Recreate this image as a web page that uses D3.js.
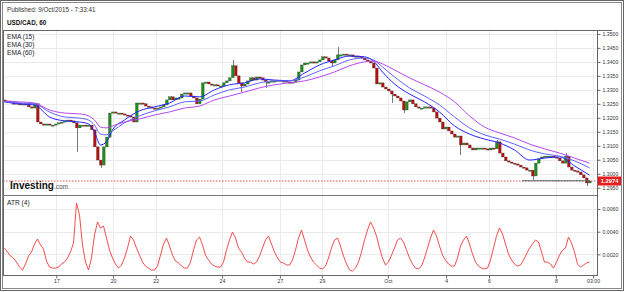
<!DOCTYPE html>
<html>
<head>
<meta charset="utf-8">
<script src="https://cdn.jsdelivr.net/npm/d3@7"></script>
<style>
body{margin:0;background:#fff}
svg{display:block;font-family:Arial,"Liberation Sans",sans-serif}
</style>
</head>
<body>
<svg id="chart" width="625" height="292"></svg>
<script>
// hourly closes, USD/CAD
var closes = [
 1.3260,1.3260,1.3253,1.3250,1.3253,1.3246,1.3250,1.3246,1.3239,1.3235,
 1.3250,1.3185,1.3178,1.3174,1.3178,1.3174,1.3174,1.3178,1.3182,1.3185,
 1.3189,1.3192,1.3189,1.3182,1.3164,1.3174,1.3174,1.3171,1.3174,1.3157,
 1.3096,1.3049,1.3031,1.3096,1.3131,1.3217,1.3221,1.3217,1.3217,1.3214,
 1.3210,1.3207,1.3203,1.3185,1.3253,1.3253,1.3250,1.3242,1.3239,1.3235,
 1.3232,1.3235,1.3239,1.3246,1.3264,1.3275,1.3264,1.3271,1.3271,1.3285,
 1.3289,1.3289,1.3278,1.3271,1.3250,1.3267,1.3325,1.3328,1.3321,1.3318,
 1.3318,1.3314,1.3314,1.3325,1.3332,1.3343,1.3386,1.3350,1.3325,1.3314,
 1.3321,1.3332,1.3343,1.3335,1.3346,1.3343,1.3335,1.3328,1.3328,1.3332,
 1.3332,1.3335,1.3332,1.3332,1.3328,1.3325,1.3328,1.3335,1.3364,1.3389,
 1.3396,1.3396,1.3400,1.3396,1.3400,1.3407,1.3418,1.3414,1.3403,1.3396,
 1.3407,1.3425,1.3425,1.3428,1.3425,1.3425,1.3418,1.3421,1.3418,1.3414,
 1.3407,1.3403,1.3396,1.3378,1.3321,1.3325,1.3310,1.3303,1.3296,1.3285,
 1.3278,1.3271,1.3260,1.3228,1.3257,1.3264,1.3250,1.3239,1.3235,1.3235,
 1.3239,1.3239,1.3235,1.3221,1.3199,1.3185,1.3160,1.3167,1.3153,1.3142,
 1.3131,1.3135,1.3103,1.3110,1.3103,1.3092,1.3085,1.3092,1.3092,1.3092,
 1.3089,1.3085,1.3092,1.3089,1.3114,1.3074,1.3060,1.3046,1.3042,1.3038,
 1.3035,1.3031,1.3024,1.3021,1.3013,1.3013,1.2992,1.3038,1.3053,1.3060,
 1.3063,1.3063,1.3063,1.3060,1.3056,1.3046,1.3038,1.3063,1.3024,1.3013,
 1.3010,1.3006,1.2996,1.2985,1.2967,1.2974]
var firstOpen = 1.3264

// long wicks
var spikeAt = [24,32,76,79,87,109,111,129,133,152,164,176,187,194]
var spikeTo = [1.3078,1.3021,1.3407,1.3292,1.3307,1.3382,1.3453,1.3253,1.3217,1.3067,1.3121,1.2978,1.3074,1.2956]

// moving averages, read every few candles
var emaAt = [0,5,10,15,20,25,28,30,32,34,36,40,45,50,55,60,65,70,75,80,85,90,95,100,105,110,115,120,123,126,130,135,140,145,150,155,160,165,170,175,180,185,190,195]
var ema15 = [1.3257,1.3250,1.3246,1.3203,1.3189,1.3185,1.3178,1.3149,1.3103,1.3114,1.3157,1.3192,1.3225,1.3239,1.3253,1.3278,1.3275,1.3300,1.3318,1.3325,1.3339,1.3335,1.3332,1.3360,1.3389,1.3407,1.3421,1.3418,1.3403,1.3364,1.3321,1.3285,1.3257,1.3221,1.3171,1.3142,1.3124,1.3110,1.3085,1.3049,1.3056,1.3060,1.3028,1.2995]
var ema30 = [1.3257,1.3253,1.3250,1.3221,1.3203,1.3199,1.3192,1.3174,1.3142,1.3139,1.3153,1.3182,1.3207,1.3225,1.3239,1.3257,1.3260,1.3282,1.3300,1.3310,1.3325,1.3332,1.3332,1.3346,1.3368,1.3386,1.3407,1.3414,1.3407,1.3382,1.3346,1.3307,1.3278,1.3246,1.3203,1.3164,1.3139,1.3124,1.3106,1.3085,1.3071,1.3063,1.3046,1.3021]
var ema60 = [1.3260,1.3257,1.3253,1.3228,1.3217,1.3214,1.3207,1.3192,1.3167,1.3164,1.3171,1.3185,1.3196,1.3210,1.3221,1.3235,1.3242,1.3264,1.3278,1.3292,1.3307,1.3318,1.3325,1.3332,1.3346,1.3364,1.3386,1.3400,1.3403,1.3393,1.3371,1.3343,1.3318,1.3292,1.3257,1.3207,1.3167,1.3146,1.3128,1.3106,1.3089,1.3074,1.3056,1.3038]

// ATR(4), one value per candle
var atr4 = [
 0.00256,0.00221,0.00185,0.00168,0.00132,0.00088,0.00062,0.00115,0.00185,0.00221,
 0.00291,0.00336,0.00283,0.00247,0.00141,0.00088,0.00079,0.00079,0.00088,0.00115,
 0.00132,0.00168,0.00221,0.00300,0.00653,0.00547,0.00283,0.00132,0.00062,0.00168,
 0.00371,0.00486,0.00433,0.00450,0.00344,0.00238,0.00168,0.00115,0.00079,0.00106,
 0.00168,0.00256,0.00362,0.00327,0.00256,0.00194,0.00132,0.00097,0.00079,0.00062,
 0.00062,0.00097,0.00194,0.00291,0.00344,0.00274,0.00194,0.00141,0.00124,0.00097,
 0.00079,0.00079,0.00132,0.00238,0.00327,0.00353,0.00283,0.00194,0.00150,0.00115,
 0.00097,0.00088,0.00088,0.00132,0.00238,0.00327,0.00397,0.00344,0.00256,0.00221,
 0.00168,0.00132,0.00132,0.00115,0.00132,0.00185,0.00256,0.00327,0.00362,0.00291,
 0.00221,0.00168,0.00132,0.00124,0.00106,0.00106,0.00150,0.00238,0.00344,0.00415,
 0.00327,0.00238,0.00177,0.00132,0.00106,0.00079,0.00071,0.00097,0.00168,0.00256,
 0.00327,0.00344,0.00274,0.00185,0.00115,0.00062,0.00053,0.00079,0.00132,0.00221,
 0.00327,0.00415,0.00486,0.00433,0.00362,0.00256,0.00168,0.00106,0.00132,0.00194,
 0.00256,0.00327,0.00344,0.00309,0.00238,0.00168,0.00115,0.00079,0.00071,0.00097,
 0.00168,0.00256,0.00344,0.00415,0.00362,0.00274,0.00194,0.00150,0.00115,0.00097,
 0.00097,0.00168,0.00274,0.00327,0.00362,0.00291,0.00203,0.00132,0.00097,0.00079,
 0.00071,0.00079,0.00150,0.00256,0.00362,0.00433,0.00380,0.00291,0.00203,0.00150,
 0.00115,0.00097,0.00106,0.00150,0.00203,0.00256,0.00291,0.00327,0.00309,0.00221,
 0.00132,0.00132,0.00115,0.00079,0.00132,0.00194,0.00238,0.00256,0.00353,0.00300,
 0.00221,0.00115,0.00088,0.00106,0.00124,0.00132]

var dayLabels = ["17","20","22","24","27","29","Oct","4","6","8","03:00"]
var dayAt = [17.8,36.7,50.9,73,92.3,106.3,128.3,147.7,162,184.3,196.7]
var priceTicks = [1.2950,1.3000,1.3050,1.3100,1.3150,1.3200,1.3250,1.3300,1.3350,1.3400,1.3450,1.3500]
var atrTicks = [0.0020,0.0040,0.0060]
var lastPrice = 1.2974
var supportFrom = 173, supportTo = 195.7, supportLevel = 1.2975

var pLeft = 3, pRight = 597, pTop = 30, pMid = 195, pBottom = 275

var svg = d3.select("#chart")

var x = d3.scaleLinear().domain([0, 196]).range([3, 591])
var y = d3.scaleLinear().domain([1.2924, 1.3514]).range([pMid, pTop])
var ya = d3.scaleLinear().domain([0.00018, 0.00724]).range([pBottom, pMid])

// outer double border
svg.append("rect").attr("x",0.5).attr("y",0.5).attr("width",623).attr("height",290)
   .attr("fill","none").attr("stroke","#666")
svg.append("rect").attr("x",2.5).attr("y",2.5).attr("width",619).attr("height",286)
   .attr("fill","none").attr("stroke","#888")

svg.append("text").attr("x",7).attr("y",12).attr("font-size",6.3).attr("fill","#333")
   .text("Published: 9/Oct/2015 - 7:33:41")
svg.append("text").attr("x",7).attr("y",25).attr("font-size",6.3).attr("font-weight","bold").attr("fill","#111")
   .text("USD/CAD, 60")

// grid
var grid = svg.append("g").attr("stroke","#ebebeb").attr("stroke-width",1)
grid.selectAll(".hp").data(priceTicks).join("line")
    .attr("x1",pLeft).attr("x2",pRight)
    .attr("y1",d=>Math.round(y(d))+0.5).attr("y2",d=>Math.round(y(d))+0.5)
grid.selectAll(".ha").data(atrTicks).join("line")
    .attr("x1",pLeft).attr("x2",pRight)
    .attr("y1",d=>Math.round(ya(d))+0.5).attr("y2",d=>Math.round(ya(d))+0.5)
grid.selectAll(".v").data(dayAt).join("line")
    .attr("x1",d=>Math.round(x(d))+0.5).attr("x2",d=>Math.round(x(d))+0.5)
    .attr("y1",pTop).attr("y2",pBottom)

// candles
var candles = closes.map(function(c,i){
    var o = i==0 ? firstOpen : closes[i-1]
    return {i:i, open:o, close:c}
})
var plot = svg.append("g")

plot.selectAll(".wick").data(spikeAt).join("line")
    .attr("x1",d=>Math.round(x(d+0.5))+0.5).attr("x2",d=>Math.round(x(d+0.5))+0.5)
    .attr("y1",(d,k)=>y(spikeTo[k]))
    .attr("y2",function(d,k){
        var c = candles[d]
        return spikeTo[k] > Math.max(c.open,c.close) ? y(Math.max(c.open,c.close)) : y(Math.min(c.open,c.close))
    })
    .attr("stroke","#777").attr("stroke-width",1)

plot.selectAll(".body").data(candles).join("rect")
    .attr("x",d=>Math.round(x(d.i))+0.5)
    .attr("y",d=>Math.min(y(d.open),y(d.close)))
    .attr("width",2.6)
    .attr("height",d=>Math.max(1.2,Math.abs(y(d.open)-y(d.close))))
    .attr("fill",d=>d.close>=d.open ? "#16921a" : "#b8100f")
    .attr("stroke","#3a2a2a").attr("stroke-width",0.3)

// EMAs
var emaLine = d3.line().x((d,k)=>x(emaAt[k]+0.5)).y(d=>y(d)).curve(d3.curveMonotoneX)
var emaColors = ["#2424ff","#6161ff","#b548f0"]
;[ema15, ema30, ema60].forEach(function(s,k){
    plot.append("path").attr("d",emaLine(s)).attr("fill","none")
        .attr("stroke",emaColors[k]).attr("stroke-width",1)
})

// last price marker
svg.append("line").attr("x1",pLeft).attr("x2",pRight)
   .attr("y1",y(lastPrice)).attr("y2",y(lastPrice))
   .attr("stroke","#e02020").attr("stroke-width",0.8).attr("stroke-dasharray","1.5,1.5")
svg.append("line").attr("x1",x(supportFrom)).attr("x2",x(supportTo))
   .attr("y1",y(supportLevel)).attr("y2",y(supportLevel))
   .attr("stroke","#4f6f6a").attr("stroke-width",1)

// ATR line
var atrLine = d3.line().x((d,i)=>x(i+0.5)).y(d=>ya(d))
svg.append("path").attr("d",atrLine(atr4)).attr("fill","none")
   .attr("stroke","#f03a3a").attr("stroke-width",0.9)

// frame
svg.append("rect").attr("x",pLeft+0.5).attr("y",pTop+0.5).attr("width",pRight-pLeft).attr("height",pBottom-pTop)
   .attr("fill","none").attr("stroke","#666")
svg.append("line").attr("x1",pRight).attr("x2",612).attr("y1",pTop+0.5).attr("y2",pTop+0.5).attr("stroke","#666")
svg.append("line").attr("x1",pLeft).attr("x2",pRight).attr("y1",pMid+0.5).attr("y2",pMid+0.5).attr("stroke","#777")

// axes
function styleAxis(g){
    g.select(".domain").remove()
    g.selectAll(".tick line").attr("stroke","#666")
    g.selectAll(".tick text").attr("font-size",5.2).attr("fill","#333")
        .attr("font-family","Arial, Liberation Sans, sans-serif")
}
svg.append("g").attr("transform","translate("+(pRight+0.5)+",0)")
   .call(d3.axisRight(y).tickValues(priceTicks).tickFormat(d3.format(".4f")).tickSize(3).tickPadding(2))
   .call(styleAxis)
svg.append("g").attr("transform","translate("+(pRight+0.5)+",0)")
   .call(d3.axisRight(ya).tickValues(atrTicks).tickFormat(d3.format(".4f")).tickSize(3).tickPadding(2))
   .call(styleAxis)
svg.append("g").attr("transform","translate(0,"+(pBottom+0.5)+")")
   .call(d3.axisBottom(x).tickValues(dayAt).tickFormat((d,i)=>dayLabels[i]).tickSize(3).tickPadding(1))
   .call(styleAxis)

// price tag
svg.append("rect").attr("x",pRight+1).attr("y",y(lastPrice)-4.5).attr("width",23).attr("height",9)
   .attr("fill","#e81c1c")
svg.append("text").attr("x",pRight+12.5).attr("y",y(lastPrice)+2).attr("text-anchor","middle")
   .attr("font-size",5.8).attr("font-weight","bold").attr("fill","#fff").text(lastPrice.toFixed(4))

// legends
var legend = ["EMA (15)","EMA (30)","EMA (60)"]
svg.selectAll(".leg").data(legend).join("text")
   .attr("x",7).attr("y",(d,i)=>39+i*8.2).attr("font-size",6.6).attr("fill","#222").text(d=>d)
svg.append("text").attr("x",7).attr("y",204.5).attr("font-size",6.6).attr("fill","#222").text("ATR (4)")

var logo = svg.append("text").attr("x",10).attr("y",189).attr("font-size",10).attr("font-weight","bold").attr("fill","#111")
logo.append("tspan").text("Investing")
logo.append("tspan").attr("font-size",6.5).attr("font-weight","normal").attr("fill","#555").text(".com")
</script>
</body>
</html>
